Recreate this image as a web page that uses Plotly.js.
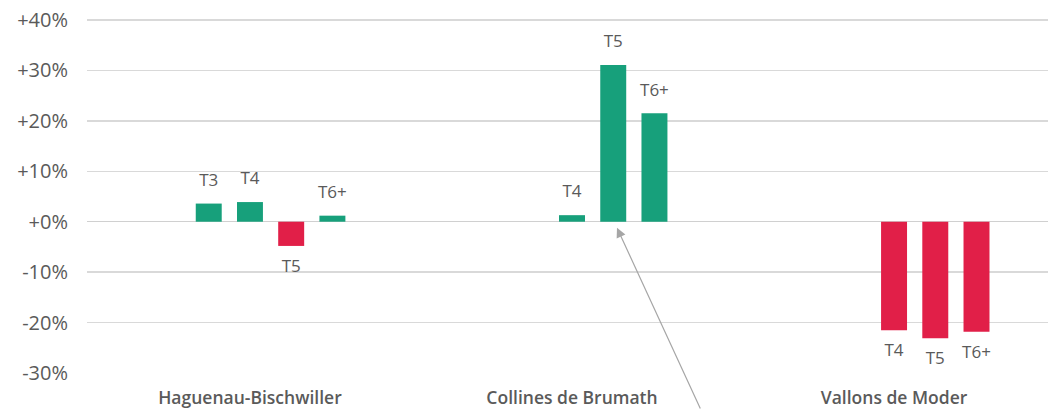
<!DOCTYPE html>
<html>
<head>
<meta charset="utf-8">
<script src="https://cdn.plot.ly/plotly-3.0.1.min.js"></script>
<style>html,body{margin:0;padding:0;background:#fff;}#chart{width:1048px;height:410px;}</style>
</head>
<body>
<div id="chart"></div>
<script>
// Data (variation in %)
const categories = ["Haguenau-Bischwiller", "Collines de Brumath", "Vallons de Moder"];
const seriesNames = ["T2", "T3", "T4", "T5", "T6+"];
const valT2  = [null, null, null];
const valT3  = [3.6, null, null];
const valT4  = [3.9, 1.3, -21.5];
const valT5  = [-4.8, 31.1, -23.1];
const valT6p = [1.2, 21.5, -21.8];
const seriesValues = [valT2, valT3, valT4, valT5, valT6p];
const yTickVals = [-30, -20, -10, 0, 10, 20, 30, 40];
const yTickText = ["-30%", "-20%", "-10%", "+0%", "+10%", "+20%", "+30%", "+40%"];

const GREEN = "#17A07B", RED = "#E11F48", GREY = "#5a5a5a";
const FONT = "Open Sans, sans-serif";

const traces = [];
seriesNames.forEach((name, i) => {
  const vals = seriesValues[i];
  traces.push({
    type: "bar", name: name, x: categories, y: vals,
    offsetgroup: name, alignmentgroup: "a",
    marker: {color: vals.map(v => (v !== null && v < 0) ? RED : GREEN)},
    hoverinfo: "skip", showlegend: false
  });
});
seriesNames.forEach((name, i) => {
  const vals = seriesValues[i];
  traces.push({
    type: "scatter", mode: "markers+text", name: name + " label",
    x: categories, y: vals,
    offsetgroup: name, alignmentgroup: "a",
    text: vals.map(v => v === null ? "" : name),
    textposition: vals.map(v => (v !== null && v < 0) ? "bottom center" : "top center"),
    textfont: {family: FONT, size: 17, color: GREY},
    marker: {size: 20, opacity: 0},
    cliponaxis: false,
    hoverinfo: "skip", showlegend: false
  });
});

const layout = {
  width: 1048, height: 410,
  margin: {l: 87, r: 0, t: 0, b: 37},
  paper_bgcolor: "#fff", plot_bgcolor: "#fff",
  barmode: "group", bargap: 0.36, bargroupgap: 0.37,
  scattermode: "group", scattergap: 0.36,
  showlegend: false,
  xaxis: {
    type: "category", range: [-0.506, 2.478],
    showgrid: false, zeroline: false, showline: false, ticks: "",
    tickfont: {family: FONT, size: 17.5, color: GREY, weight: 600},
    ticklabelstandoff: 12, fixedrange: true
  },
  yaxis: {
    range: [-30, 43.97],
    tickvals: yTickVals, ticktext: yTickText,
    showgrid: true, gridcolor: "#d9d9d9", gridwidth: 1.5,
    zeroline: true, zerolinecolor: "#d0d0d0", zerolinewidth: 1.5,
    showline: false, ticks: "",
    tickfont: {family: FONT, size: 20, color: GREY},
    ticklabelstandoff: 18, fixedrange: true
  },
  annotations: [{
    xref: "paper", yref: "y", x: 0.5515, y: -1.2,
    showarrow: true, arrowhead: 2, arrowsize: 1.6, arrowwidth: 1.2,
    arrowcolor: "#a6a6a6", ax: 84, ay: 190, text: ""
  }]
};

Plotly.newPlot("chart", traces, layout, {displayModeBar: false, staticPlot: true});
</script>
</body>
</html>
